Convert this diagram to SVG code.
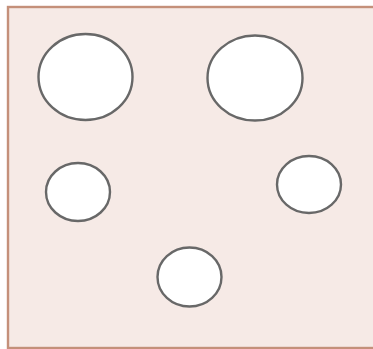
<svg xmlns="http://www.w3.org/2000/svg" width="373" height="349" viewBox="0 0 373 349">
<style>
.bg{fill:#f6eae6;stroke:#c4907a;stroke-width:2.4}
.c{fill:#ffffff;stroke:#686868;stroke-width:2.4}
</style>
<rect width="373" height="349" fill="#ffffff"/>
<rect class="bg" x="8" y="7" width="380" height="341"/>
<g id="n1"><ellipse class="c" cx="85.5" cy="77" rx="47" ry="43"/></g>
<g id="n2"><ellipse class="c" cx="255" cy="78" rx="47.5" ry="42.5"/></g>
<g id="n3"><ellipse class="c" cx="78" cy="192" rx="32" ry="29"/></g>
<g id="n4"><ellipse class="c" cx="309" cy="184.5" rx="32" ry="28.5"/></g>
<g id="n5"><ellipse class="c" cx="189.5" cy="277" rx="32" ry="29.5"/></g>
<g id="connectors"></g>
</svg>
